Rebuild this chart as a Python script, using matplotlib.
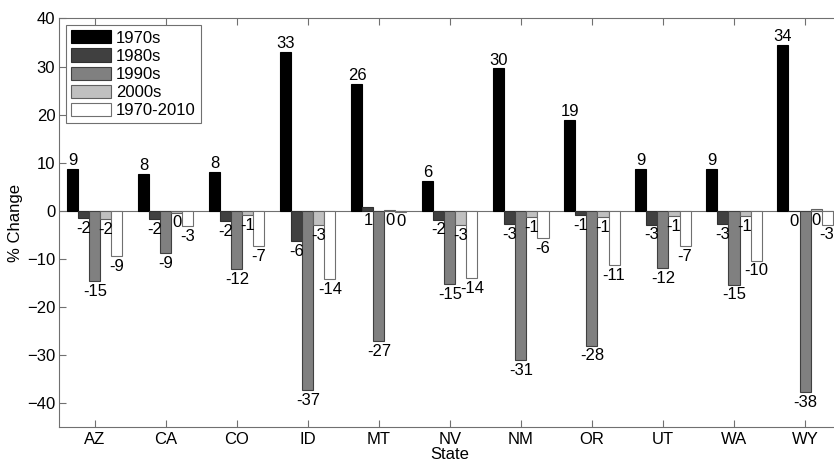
import numpy as np
import matplotlib
matplotlib.use('Agg')
import matplotlib.pyplot as plt

plt.rcParams['font.family'] = ['Liberation Sans', 'DejaVu Sans']

states = ['AZ', 'CA', 'CO', 'ID', 'MT', 'NV', 'NM', 'OR', 'UT', 'WA', 'WY']
decades = ['1970s', '1980s', '1990s', '2000s', '1970-2010']

# % change per state, one list per period
chg_1970s = [8.7, 7.6, 8.0, 33.0, 26.4, 6.2, 29.6, 18.9, 8.7, 8.7, 34.5]
chg_1980s = [-1.6, -1.7, -2.2, -6.4, 0.8, -1.9, -2.8, -0.9, -2.9, -2.8, -0.1]
chg_1990s = [-14.7, -8.8, -12.2, -37.4, -27.2, -15.3, -31.2, -28.1, -12.0, -15.4, -37.8]
chg_2000s = [-1.7, -0.4, -1.0, -3.1, 0.2, -3.1, -1.4, -1.3, -1.2, -1.2, 0.3]
chg_total = [-9.4, -3.3, -7.4, -14.2, -0.2, -14.0, -5.7, -11.4, -7.4, -10.4, -2.9]

series = [chg_1970s, chg_1980s, chg_1990s, chg_2000s, chg_total]
fills = ['#000000', '#404040', '#808080', '#c0c0c0', '#ffffff']
edges = ['#000000', '#303030', '#404040', '#606060', '#707070']

fs = 12
fig = plt.figure(figsize=(8.34, 4.63), dpi=100)
ax = fig.add_axes([0.0713, 0.0784, 0.9365, 0.8817])

x = np.arange(1, len(states) + 1)
bw = 0.155
for i, vals in enumerate(series):
    pos = x + (i - 2) * bw
    ax.bar(pos, vals, width=bw, color=fills[i], edgecolor=edges[i],
           linewidth=0.8, label=decades[i], zorder=2)
    for px, v in zip(pos, vals):
        txt = str(int(round(v)))
        if v > 2:
            ax.annotate(txt, (px, v), xytext=(0, 0.5), textcoords='offset points',
                        ha='center', va='bottom', fontsize=fs)
        else:
            ax.annotate(txt, (px, min(v, 0)), xytext=(0, -2), textcoords='offset points',
                        ha='center', va='top', fontsize=fs)

ax.set_xlim(0.5, 11.5)
ax.set_ylim(-45, 40)
ax.set_xticks(x)
ax.set_xticklabels(states)
ax.set_yticks(np.arange(-40, 41, 10))
ax.axhline(0, color='#707070', lw=0.8, zorder=1)

for s in ax.spines.values():
    s.set_color('#707070')
    s.set_linewidth(0.8)
ax.tick_params(direction='in', length=5, width=0.8, color='#707070',
               top=True, right=True, labelsize=fs)
ax.tick_params(axis='y', pad=3)
ax.tick_params(axis='x', pad=4)

ax.set_xlabel('State', fontsize=fs, labelpad=0)
ax.set_ylabel('% Change', fontsize=fs, labelpad=3)

leg = ax.legend(loc='upper left', fontsize=fs, fancybox=False, framealpha=1,
                edgecolor='#707070', handlelength=2.4, handleheight=0.84,
                labelspacing=0.17, borderaxespad=0.4, handletextpad=0.3,
                borderpad=0.3)
leg.get_frame().set_linewidth(0.8)

fig.savefig('out.png', dpi=100)
